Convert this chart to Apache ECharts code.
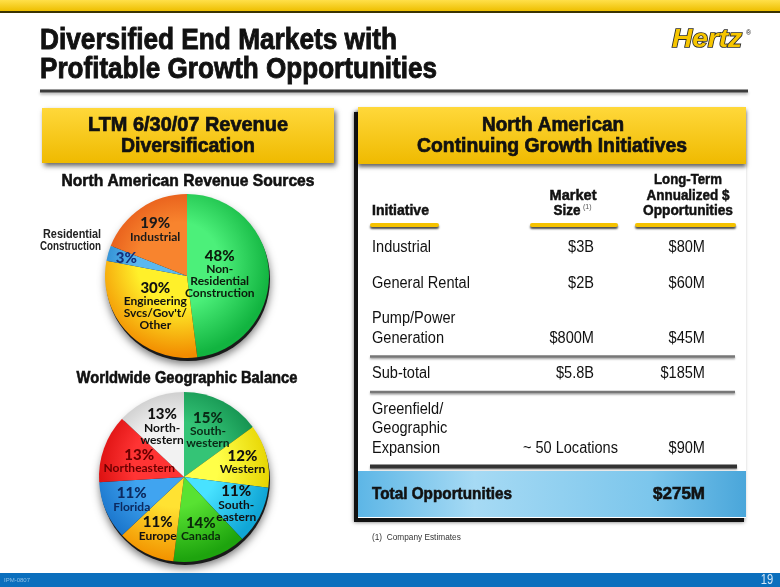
<!DOCTYPE html>
<html>
<head>
<meta charset="utf-8">
<script src="https://cdn.jsdelivr.net/npm/echarts@6/dist/echarts.min.js"></script>
<style>
    html, body { margin: 0; padding: 0; background: #fff; }
    #chart { width: 780px; height: 587px; }
</style>
</head>
<body>
<div id="chart"></div>
<script>
    // North American revenue sources (clockwise from 12 o'clock)
    var naNames = ['Non-Residential Construction', "Engineering Svcs/Gov't/Other", 'Residential Construction', 'Industrial'];
    var naValues = [48, 30, 3, 19];
    var naLabels = ['Non-\nResidential\nConstruction', "Engineering\nSvcs/Gov't/\nOther", '', 'Industrial'];

    // worldwide geographic balance (clockwise from 12 o'clock)
    var geoNames = ['Southwestern', 'Western', 'Southeastern', 'Canada', 'Europe', 'Florida', 'Northeastern', 'Northwestern'];
    var geoValues = [15, 12, 11, 14, 11, 11, 13, 13];
    var geoLabels = ['South-\nwestern', 'Western', 'South-\neastern', 'Canada', 'Europe', 'Florida', 'Northeastern', 'North-\nwestern'];

    // growth initiatives table
    var tableHeaders = [['Initiative'], ['Market', 'Size'], ['Long-Term', 'Annualized $', 'Opportunities']];
    var initiatives = [['Industrial'], ['General Rental'], ['Pump/Power', 'Generation'], ['Sub-total'], ['Greenfield/', 'Geographic', 'Expansion']];
    var marketSize = ['$3B', '$2B', '$800M', '$5.8B', '~ 50 Locations'];
    var opportunities = ['$80M', '$60M', '$45M', '$185M', '$90M'];
    var totalLabel = 'Total Opportunities';
    var totalValue = '$275M';

    var BOLD = '"Liberation Sans", Arial, sans-serif';
    var LABEL = 'Lato, "Liberation Sans", sans-serif';

    // inner / outer shades for each slice
    var naInner = ['#4cf07a', '#fff02a', '#5ab8f0', '#f8842e'];
    var naOuter = ['#12b440', '#f28c00', '#1e7cc6', '#de4810'];
    var geoInner = ['#34c476', '#ffff48', '#48e2ff', '#58e232', '#ffe232', '#40a4f0', '#ff3434', '#f2f2f2'];
    var geoOuter = ['#0e8848', '#e6d400', '#10a6d6', '#1ea40e', '#f39400', '#146ec6', '#cc0000', '#b4b4b4'];
    var naText = ['#0c1a0c', '#111', '#15307a', '#1a1a1a'];
    var geoText = ['#0a2a16', '#111', '#111', '#0a2a0a', '#111', '#0c2a60', '#6a0000', '#111'];
    var naLabelR = [0.40, 0.53, 0.77, 0.69];
    var geoLabelR = [0.62, 0.71, 0.69, 0.64, 0.68, 0.67, 0.56, 0.65];

    var pie1 = {cx: 187, cy: 276, r: 82};
    var pie2 = {cx: 184, cy: 477, r: 85};

    var measureCtx = document.createElement('canvas').getContext('2d');
    function widthOf(text, font) {
        measureCtx.font = font;
        return measureCtx.measureText(text).width;
    }

    function sliceColor(inner, outer, p) {
        return {
            type: 'radial', x: p.cx - p.r * 0.1, y: p.cy - p.r * 0.15, r: p.r * 1.12, global: true,
            colorStops: [
                {offset: 0, color: inner},
                {offset: 0.45, color: inner},
                {offset: 1, color: outer}
            ]
        };
    }

    function labelPos(values, fracs, p, idx) {
        var total = values.reduce(function (a, b) { return a + b; }, 0);
        var before = 0;
        for (var i = 0; i < idx; i++) before += values[i];
        var a = (before + values[idx] / 2) / total * Math.PI * 2;
        var lr = fracs[idx] * p.r;
        return {x: p.cx + lr * Math.sin(a), y: p.cy - lr * Math.cos(a), align: 'center', verticalAlign: 'middle'};
    }

    // text element; opts.w squeezes the text horizontally to that width, opts.heavy thickens it
    function txt(text, x, y, font, opts) {
        opts = opts || {};
        var sx = opts.w ? Math.min(1, opts.w / widthOf(text, font)) : (opts.sx || 1);
        var fill = opts.fill || '#111';
        var style = {
            text: text, x: 0, y: 0, font: font, fill: fill,
            textAlign: opts.align || 'left', textVerticalAlign: 'middle'
        };
        if (opts.heavy) { style.stroke = fill; style.lineWidth = opts.heavy; }
        return {type: 'text', z: opts.z || 10, x: x, y: y, scaleX: sx, style: style};
    }

    var chart = echarts.init(document.getElementById('chart'));
    var g = [];
    var yellowV = function () {
        return new echarts.graphic.LinearGradient(0, 0, 0, 1, [{offset: 0, color: '#ffd83a'}, {offset: 1, color: '#efba00'}]);
    };

    // top yellow band
    g.push({type: 'rect', shape: {x: 0, y: 0, width: 780, height: 11},
        style: {fill: new echarts.graphic.LinearGradient(0, 0, 0, 1, [{offset: 0, color: '#ffe04a'}, {offset: 1, color: '#eebf00'}])}});
    g.push({type: 'line', shape: {x1: 0, y1: 12, x2: 780, y2: 12}, style: {stroke: '#3a3300', lineWidth: 2}});

    // title
    var titleFont = 'bold 30px ' + BOLD;
    g.push(txt('Diversified End Markets with', 40, 41, titleFont, {w: 357, heavy: 0.9}));
    g.push(txt('Profitable Growth Opportunities', 40, 70, titleFont, {w: 397, heavy: 0.9}));
    g.push({type: 'line', shape: {x1: 40, y1: 91, x2: 748, y2: 91},
        style: {stroke: '#3c3c3c', lineWidth: 3, shadowBlur: 3, shadowOffsetY: 2, shadowColor: 'rgba(0,0,0,0.3)'}});

    // logo
    g.push({type: 'text', z: 10, x: 707, y: 40, scaleX: 1.08, style: {text: 'Hertz', x: 0, y: 0, font: 'italic bold 26px ' + BOLD,
        fill: '#f7c600', stroke: '#2a2a2a', lineWidth: 1.6, textAlign: 'center', textVerticalAlign: 'middle',
        shadowBlur: 4, shadowOffsetX: 2, shadowOffsetY: 3, shadowColor: 'rgba(0,0,0,0.5)'}});
    g.push(txt('\u00ae', 746, 33, '7px ' + BOLD));

    // left header box
    g.push({type: 'rect', shape: {x: 42, y: 108, width: 292, height: 55},
        style: {fill: yellowV(), shadowBlur: 5, shadowOffsetX: 2, shadowOffsetY: 3, shadowColor: 'rgba(0,0,0,0.6)'}});
    g.push(txt('LTM 6/30/07 Revenue', 188, 125, 'bold 20px ' + BOLD, {align: 'center', w: 200, heavy: 0.7}));
    g.push(txt('Diversification', 188, 146, 'bold 20px ' + BOLD, {align: 'center', w: 134, heavy: 0.7}));
    g.push(txt('North American Revenue Sources', 188, 181, 'bold 17px ' + BOLD, {align: 'center', w: 253, heavy: 0.6}));
    g.push(txt('Worldwide Geographic Balance', 187, 378, 'bold 17px ' + BOLD, {align: 'center', w: 221, heavy: 0.6}));
    g.push(txt('Residential', 101, 235, 'bold 12px ' + BOLD, {align: 'right', fill: '#222', w: 58}));
    g.push(txt('Construction', 101, 247, 'bold 12px ' + BOLD, {align: 'right', fill: '#222', w: 61}));

    // pie drop shadows
    [pie1, pie2].forEach(function (p) {
        g.push({type: 'circle', z: 0, shape: {cx: p.cx + 1, cy: p.cy + 3, r: p.r},
            style: {fill: '#1a1a1a', shadowBlur: 8, shadowOffsetY: 3, shadowColor: 'rgba(0,0,0,0.55)'}});
    });

    // right panel
    g.push({type: 'rect', shape: {x: 354, y: 112, width: 390, height: 410}, style: {fill: '#111', shadowBlur: 4, shadowColor: 'rgba(0,0,0,0.6)'}});
    g.push({type: 'rect', shape: {x: 358, y: 108, width: 388, height: 410}, style: {fill: '#fff'}});
    g.push({type: 'rect', shape: {x: 358, y: 107, width: 388, height: 57},
        style: {fill: yellowV(), shadowBlur: 4, shadowOffsetY: 3, shadowColor: 'rgba(0,0,0,0.6)'}});
    g.push(txt('North American', 553, 125, 'bold 20px ' + BOLD, {align: 'center', w: 142, heavy: 0.7}));
    g.push(txt('Continuing Growth Initiatives', 552, 146, 'bold 20px ' + BOLD, {align: 'center', w: 270, heavy: 0.7}));

    // table headers
    var colX = [372, 573, 688];
    var headW = [[57], [47, 27], [68, 83, 90]];
    var headFont = 'bold 15px ' + BOLD;
    tableHeaders.forEach(function (lines, c) {
        lines.forEach(function (t, k) {
            var y = 211 - (lines.length - 1 - k) * 15.5;
            g.push(txt(t, c === 1 && k === 1 ? colX[c] - 6 : colX[c], y, headFont, {align: c === 0 ? 'left' : 'center', w: headW[c][k], heavy: 0.5}));
        });
    });
    g.push(txt('(1)', 583, 207, '7px ' + BOLD, {fill: '#555'}));
    [[372, 437], [532, 616], [637, 734]].forEach(function (s) {
        g.push({type: 'line', shape: {x1: s[0], y1: 225, x2: s[1], y2: 225},
            style: {stroke: '#f5c200', lineWidth: 4, lineCap: 'round', shadowBlur: 2, shadowOffsetY: 2, shadowColor: 'rgba(0,0,0,0.7)'}});
    });

    // table rows
    var rowFont = '16px ' + BOLD;
    var rowSx = 0.91;
    var y = 248;
    initiatives.forEach(function (lines, i) {
        lines.forEach(function (t, k) {
            g.push(txt(t, 372, y + k * 19.5, rowFont, {sx: rowSx}));
        });
        var last = y + (lines.length - 1) * 19.5;
        g.push(txt(marketSize[i], i === 4 ? 618 : 594, last, rowFont, {align: 'right', sx: rowSx}));
        g.push(txt(opportunities[i], 705, last, rowFont, {align: 'right', sx: rowSx}));
        if (i >= 2) {
            var ly = last + 18;
            g.push({type: 'line', shape: {x1: 370, y1: ly, x2: i === 4 ? 737 : 735, y2: ly},
                style: {stroke: i === 4 ? '#333' : '#777', lineWidth: i === 4 ? 4 : 2.5, shadowBlur: 2, shadowOffsetY: 1.5, shadowColor: 'rgba(0,0,0,0.35)'}});
        }
        y = last + 35.5;
    });

    // total row
    g.push({type: 'rect', z: 5, shape: {x: 358, y: 471, width: 388, height: 46},
        style: {fill: new echarts.graphic.LinearGradient(0, 0, 1, 0, [
            {offset: 0, color: '#5db6e6'}, {offset: 0.3, color: '#a6daf4'}, {offset: 0.75, color: '#7cc6ec'}, {offset: 1, color: '#4aa6da'}])}});
    g.push(txt(totalLabel, 372, 494, 'bold 17px ' + BOLD, {z: 11, w: 140, heavy: 0.6}));
    g.push(txt(totalValue, 705, 494, 'bold 17px ' + BOLD, {align: 'right', z: 11, w: 52, heavy: 0.6}));
    g.push(txt('(1)  Company Estimates', 372, 538, '9px ' + BOLD, {fill: '#333', sx: 0.92}));

    // footer
    g.push({type: 'rect', shape: {x: 0, y: 573, width: 780, height: 14}, style: {fill: '#0b6fbd'}});
    g.push(txt('IPM-0807', 4, 580, '6px ' + BOLD, {fill: '#8fc0e6'}));
    g.push(txt('19', 767, 580, '14px ' + BOLD, {fill: '#d6e8f6', align: 'center', sx: 0.8}));

    function pieSeries(p, names, values, labels, inner, outer, fracs, textColors) {
        return {
            type: 'pie', center: [p.cx, p.cy], radius: [0, p.r], startAngle: 90, clockwise: true,
            silent: true, animation: false,
            itemStyle: {borderWidth: 0},
            label: {position: 'inside', show: true},
            labelLine: {show: false},
            labelLayout: function (params) { return labelPos(values, fracs, p, params.dataIndex); },
            data: names.map(function (n, i) {
                var tc = textColors[i];
                var f = '{p|' + values[i] + '%}';
                if (labels[i]) f += '\n{n|' + labels[i].split('\n').join('}\n{n|') + '}';
                return {
                    name: n, value: values[i],
                    itemStyle: {color: sliceColor(inner[i], outer[i], p)},
                    label: {
                        formatter: f,
                        rich: {
                            p: {fontFamily: LABEL, fontWeight: 900, fontSize: 15, color: tc, lineHeight: 15, align: 'center'},
                            n: {fontFamily: LABEL, fontWeight: 'bold', fontSize: 12, color: tc, lineHeight: 12, align: 'center'}
                        }
                    }
                };
            })
        };
    }

    chart.setOption({
        backgroundColor: '#fff',
        animation: false,
        graphic: {elements: g},
        series: [
            pieSeries(pie1, naNames, naValues, naLabels, naInner, naOuter, naLabelR, naText),
            pieSeries(pie2, geoNames, geoValues, geoLabels, geoInner, geoOuter, geoLabelR, geoText)
        ]
    });
</script>
</body>
</html>
